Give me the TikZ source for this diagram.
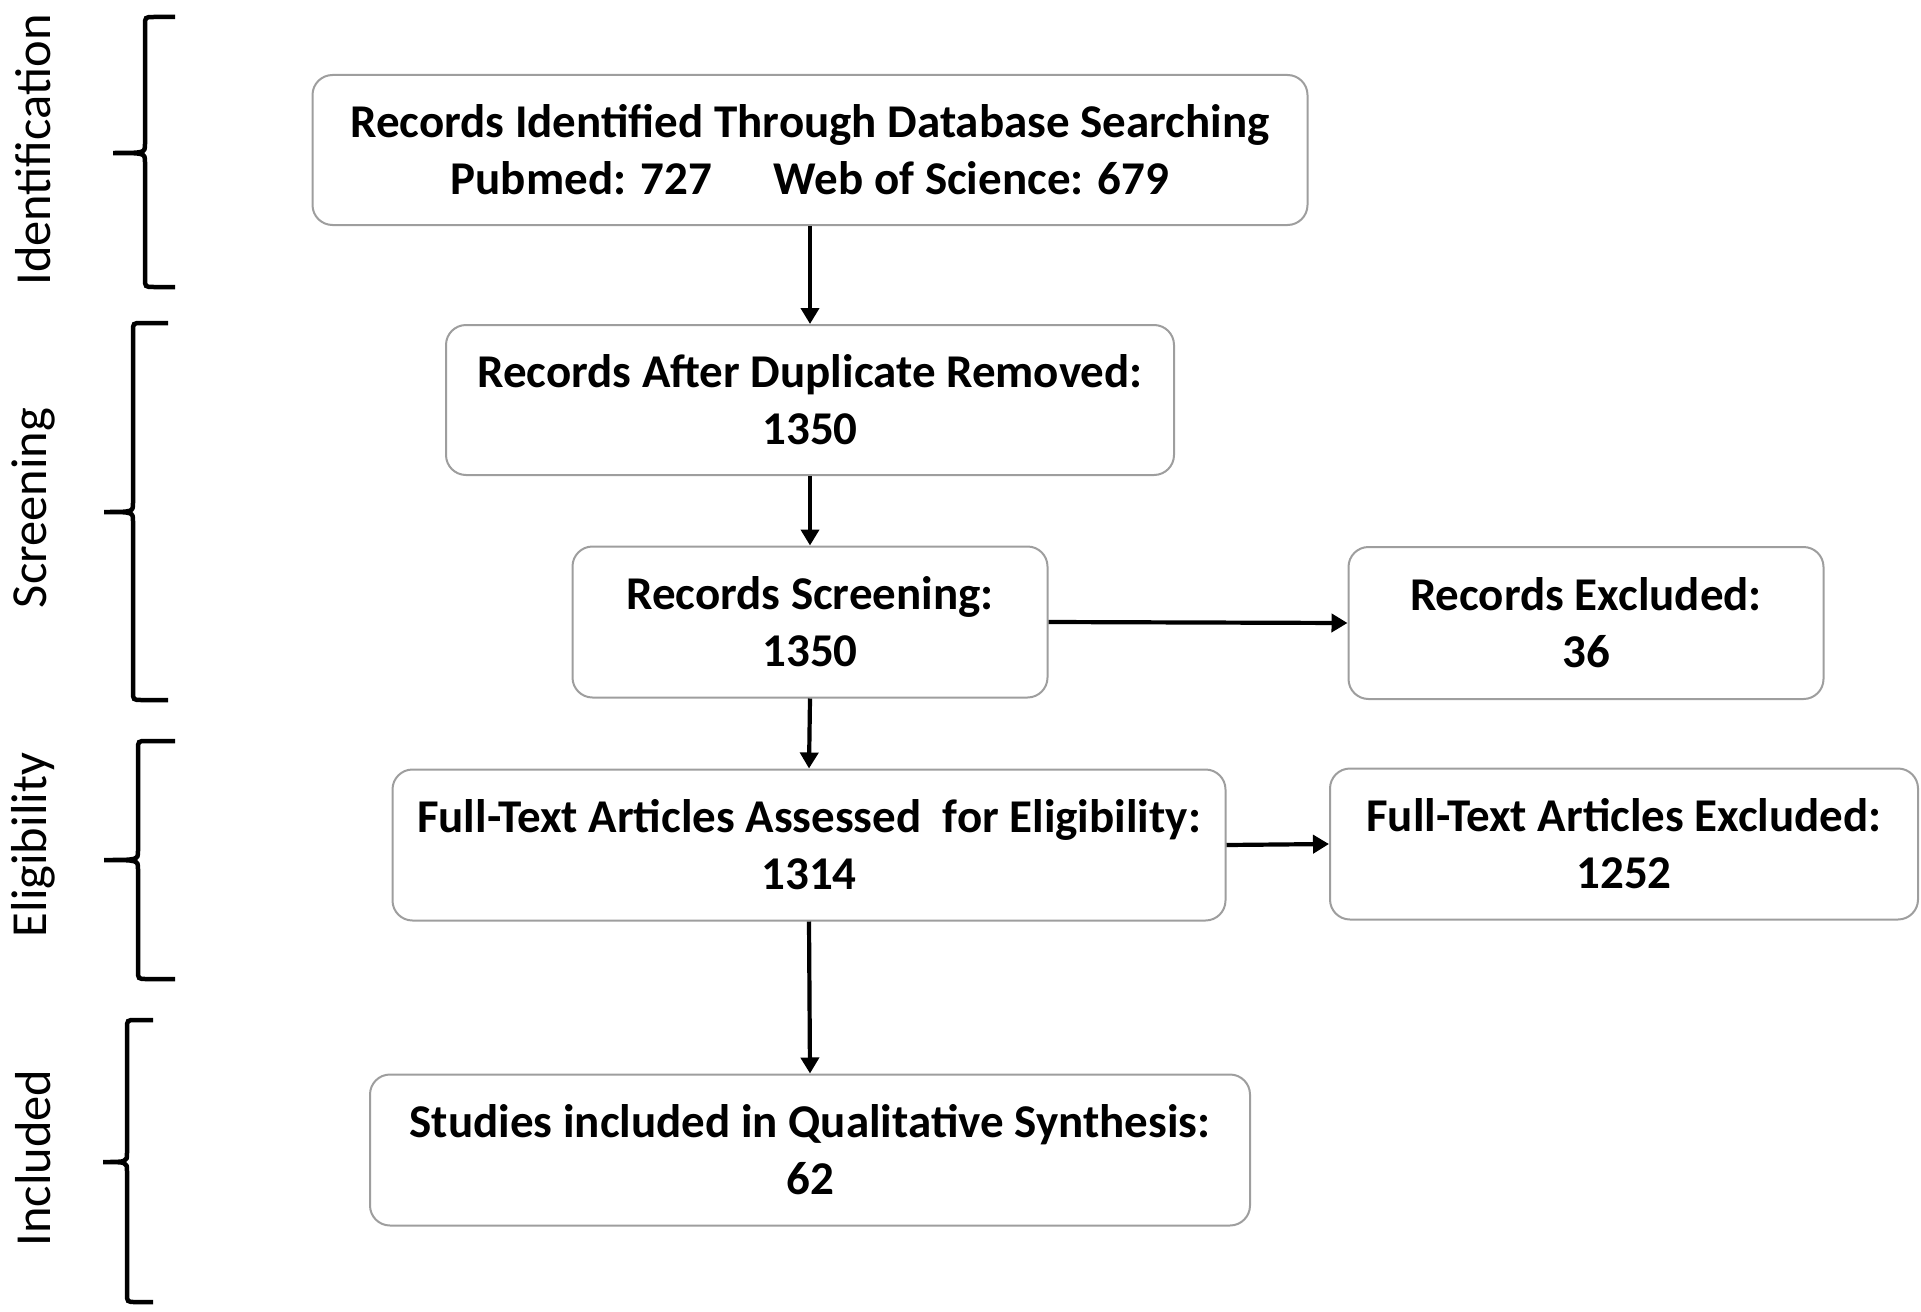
\documentclass[tikz,border=0pt]{standalone}
\usepackage{fontspec}
\setmainfont{Carlito}
\usetikzlibrary{arrows.meta}
\tikzset{
  box/.style={draw=black!38, line width=2pt, rounded corners=20pt, fill=white,
    align=center, inner sep=0pt, font=\fontsize{47}{57}\selectfont\bfseries},
  flow/.style={line width=4.2pt, -{Triangle[length=16pt,width=18pt]}},
  phase/.style={rotate=90, font=\fontsize{50.5}{60}\selectfont, inner sep=0pt},
  bracepath/.style={line width=4.5pt, line cap=butt}
}
\newcommand\prismabrace[6]{%
  \draw[bracepath] (#3,#4) -- ({#1+9},#4) .. controls (#1,#4) .. (#1,{#4+9})
    -- (#1,{#5-9}) .. controls (#1,#5) .. (#2,#5)
    .. controls (#1,#5) .. (#1,{#5+9}) -- (#1,{#6-9})
    .. controls (#1,#6) .. ({#1+9},#6) -- (#3,#6);}
\begin{document}
\begin{tikzpicture}[x=1pt,y=-1pt]
\useasboundingbox (0,0) rectangle (1921,1311);

% phase labels
\node[phase] (lid) at (33,150) {Identification};
\node[phase] (lsc) at (33,508) {Screening};
\node[phase] (lel) at (33,845) {Eligibility};
\node[phase] (lin) at (33,1158) {Included};

% braces
\prismabrace{145}{113}{175}{17}{153}{287}
\prismabrace{133}{104}{168}{323}{512}{700}
\prismabrace{138}{104}{175}{741}{860}{979}
\prismabrace{127}{103}{153}{1020}{1162}{1302}

% boxes
\node[box, minimum width=995pt, minimum height=150pt] (b1) at (810,150)
  {Records Identified Through Database Searching\\Pubmed: 727\hspace{62pt}Web of Science: 679};
\node[box, minimum width=728pt, minimum height=150pt] (b2) at (810,400)
  {Records After Duplicate Removed:\\1350};
\node[box, minimum width=475pt, minimum height=151pt] (b3) at (810,622)
  {Records Screening:\\1350};
\node[box, minimum width=475pt, minimum height=152pt] (b4) at (1586,623)
  {Records Excluded:\\36};
\node[box, minimum width=833pt, minimum height=151pt] (b5) at (809,845)
  {Full-Text Articles Assessed\ \ for Eligibility:\\1314};
\node[box, minimum width=588pt, minimum height=151pt] (b6) at (1624,844)
  {Full-Text Articles Excluded:\\1252};
\node[box, minimum width=880pt, minimum height=151pt] (b7) at (810,1150)
  {Studies included in Qualitative Synthesis:\\62};

% connectors
\draw[flow] (b1.south) -- (b2.north);
\draw[flow] (b2.south) -- (b3.north);
\draw[flow] (b3.south) -- (b5.north);
\draw[flow] (b5.south) -- (b7.north);
\draw[flow] (b3.east) -- (b4.west);
\draw[flow] (b5.east) -- (b6.west);
\end{tikzpicture}
\end{document}
